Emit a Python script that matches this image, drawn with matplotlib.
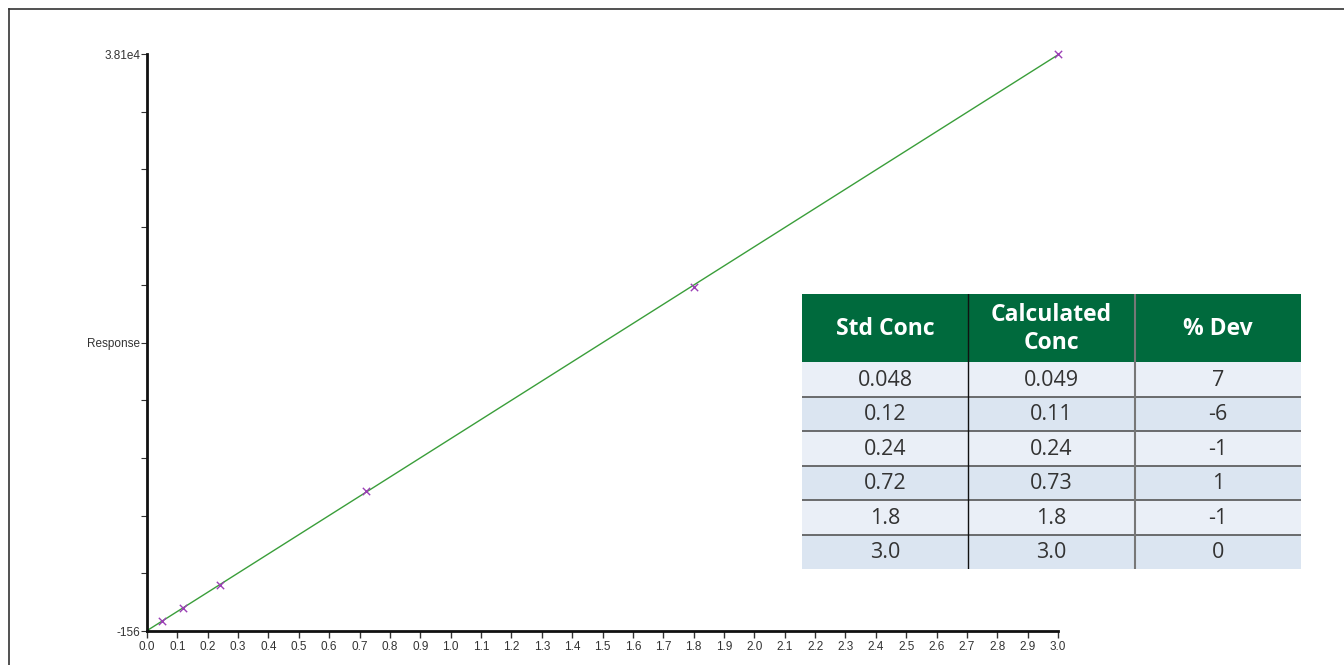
import numpy as np
import matplotlib.pyplot as plt
from matplotlib.patches import Rectangle
from matplotlib.lines import Line2D

# standards (conc) and measured response
std_conc = [0.048, 0.12, 0.24, 0.72, 1.8, 3.0]
response = [507, 1369, 2894, 9126, 22651, 38100]

y_min, y_max = -156, 38100

# table contents
col_labels = ["Std Conc", "Calculated\nConc", "% Dev"]
tbl_std = ["0.048", "0.12", "0.24", "0.72", "1.8", "3.0"]
tbl_calc = ["0.049", "0.11", "0.24", "0.73", "1.8", "3.0"]
tbl_dev = ["7", "-6", "-1", "1", "-1", "0"]

W, H = 1344, 665
fig = plt.figure(figsize=(W / 100, H / 100), dpi=100)

# frame lines (top and left)
fig.add_artist(Line2D([9 / W, 1], [1 - 9 / H, 1 - 9 / H], color="#333333", lw=1.2))
fig.add_artist(Line2D([9 / W, 9 / W], [0, 1 - 9 / H], color="#333333", lw=1.2))

ax = fig.add_axes([147 / W, 1 - 631 / H, (1058 - 147) / W, (631 - 54) / H])

coef = np.polyfit(std_conc, response, 1)
xs = np.linspace(0, 3.0, 200)
ax.plot(xs, np.polyval(coef, xs), color="#3a9e3a", lw=1)
ax.scatter(std_conc, response, marker="x", color="#9b3fb5", s=28, lw=1, zorder=3, clip_on=False)

ax.set_xlim(0, 3.0)
ax.set_ylim(y_min, y_max)
for s in ["top", "right"]:
    ax.spines[s].set_visible(False)
for s in ["left", "bottom"]:
    ax.spines[s].set_linewidth(2)
    ax.spines[s].set_color("#111111")

ax.set_xticks(np.round(np.arange(0, 3.01, 0.1), 1))
ax.set_xticklabels([f"{v:.1f}" for v in np.arange(0, 3.01, 0.1)])
yt = np.linspace(y_min, y_max, 11)
ylabels = [""] * 11
ylabels[0], ylabels[5], ylabels[10] = "-156", "Response", "3.81e4"
ax.set_yticks(yt)
ax.set_yticklabels(ylabels)
ax.tick_params(axis="x", length=5, width=1, pad=2, labelsize=8.5, colors="#333333")
ax.tick_params(axis="y", length=4, width=0.8, pad=1, labelsize=8.5, colors="#333333")
for lab in ax.get_xticklabels() + ax.get_yticklabels():
    lab.set_family("Liberation Sans")

# results table
tax = fig.add_axes([802 / W, 1 - 569 / H, (1301 - 802) / W, (569 - 294) / H])
tax.set_xlim(0, 499)
tax.set_ylim(275, 0)
tax.axis("off")
col_x = [0, 166, 333, 499]
head_h = 68
row_h = (275 - head_h) / 6
tax.add_patch(Rectangle((0, 0), 499, head_h, color="#006a3d", lw=0))
for j, lab in enumerate(col_labels):
    tax.text((col_x[j] + col_x[j + 1]) / 2, head_h / 2 + 1, lab, ha="center", va="center",
             color="white", fontsize=16.5, fontweight="bold", family="Open Sans",
             linespacing=1.2)
rows = list(zip(tbl_std, tbl_calc, tbl_dev))
for i, row in enumerate(rows):
    y0 = head_h + i * row_h
    tax.add_patch(Rectangle((0, y0), 499, row_h, color="#eaeff7" if i % 2 == 0 else "#dbe5f1", lw=0))
    if i > 0:
        tax.plot([0, 499], [y0, y0], color="#555555", lw=1.2)
    for j, val in enumerate(row):
        tax.text((col_x[j] + col_x[j + 1]) / 2, y0 + row_h / 2 + 1, val, ha="center", va="center",
                 color="#333333", fontsize=15.5, family="Open Sans")
tax.plot([166, 166], [0, 275], color="#111111", lw=1)
tax.plot([333, 333], [0, 275], color="#777777", lw=1.5)

fig.savefig("out.png", dpi=100)
